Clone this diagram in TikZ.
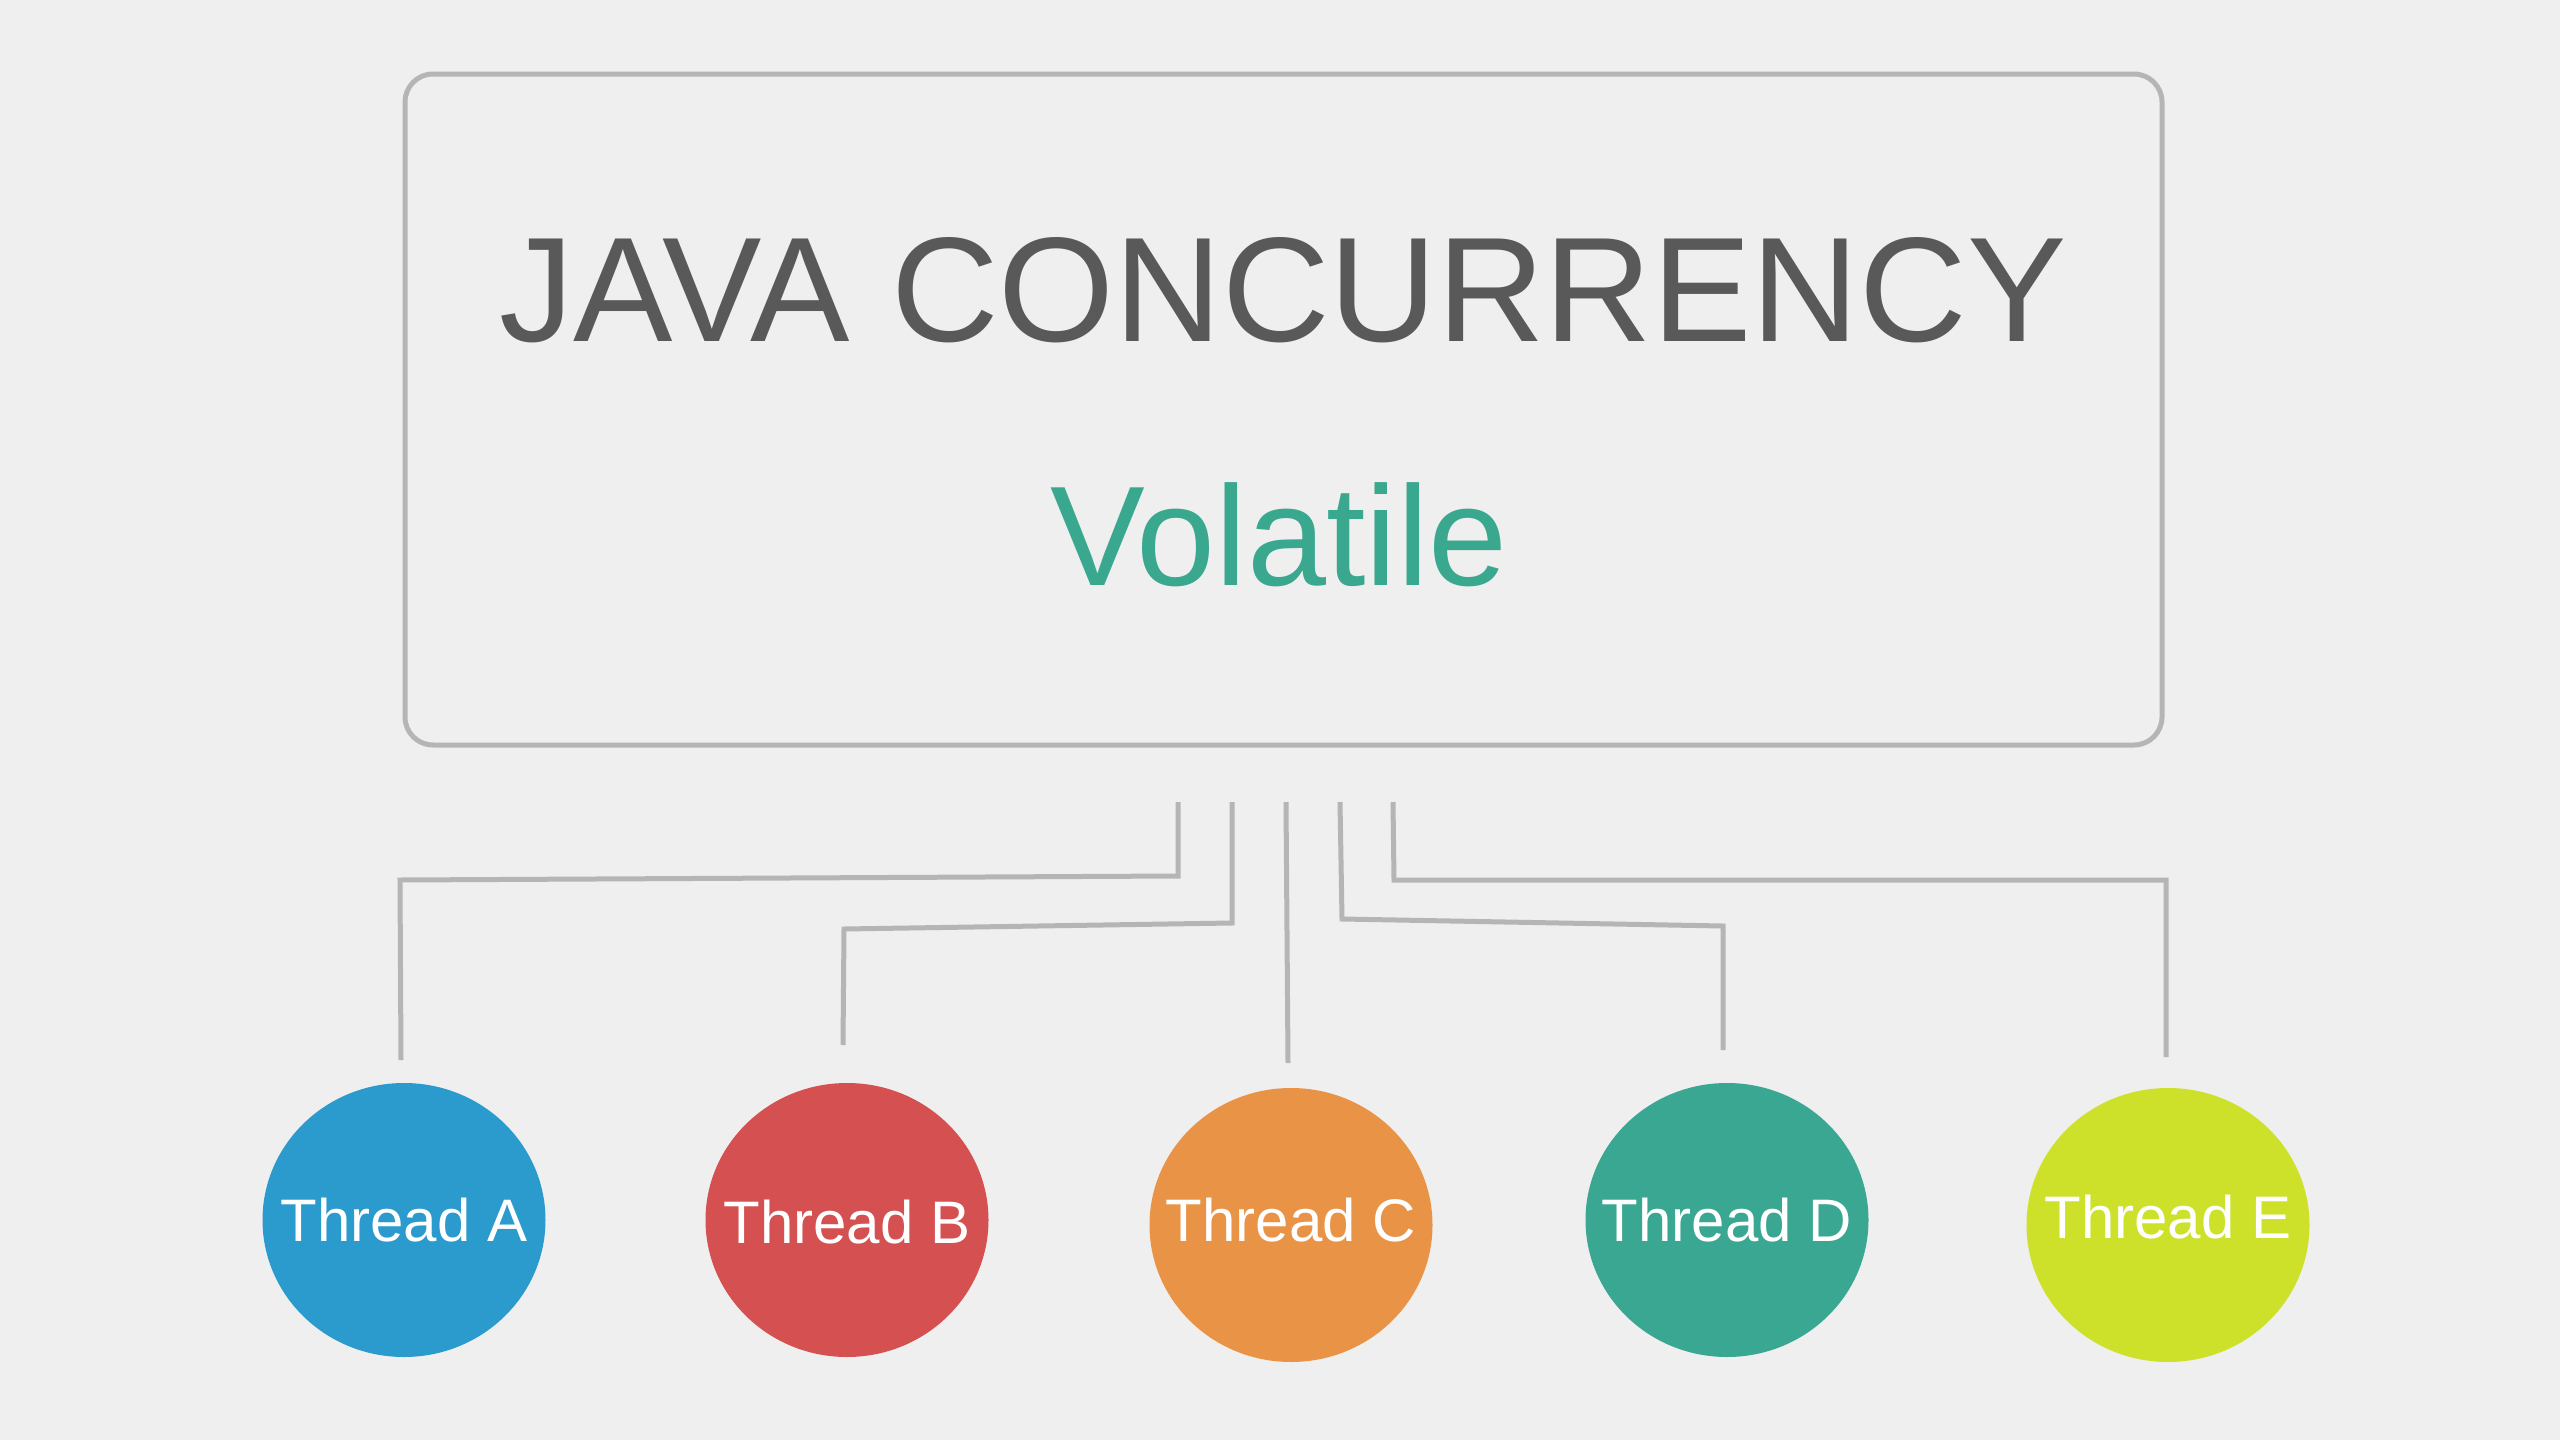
\documentclass[tikz,border=0pt]{standalone}
\usepackage{fontspec}
\setmainfont{Liberation Sans}
\usetikzlibrary{shapes.geometric}
\definecolor{bgc}{HTML}{EFEFEF}
\definecolor{linec}{HTML}{B5B5B5}
\definecolor{titlec}{HTML}{595959}
\definecolor{volc}{HTML}{3AA78F}
\definecolor{ca}{HTML}{2B9ACD}
\definecolor{cb}{HTML}{D45051}
\definecolor{cc}{HTML}{E99347}
\definecolor{cd}{HTML}{3AA792}
\definecolor{ce}{HTML}{CDE12B}
\tikzset{
  thread/.style={ellipse, fill=#1, draw=none, inner sep=0pt,
    minimum width=283pt, minimum height=274pt},
  threadtext/.style={text=white, inner sep=0pt, font=\fontsize{60}{70}\selectfont},
  conn/.style={draw=linec, line width=5pt, line join=miter},
}
\begin{document}
\begin{tikzpicture}[x=1pt,y=-1pt]
\fill[bgc] (0,0) rectangle (2560,1440);
\useasboundingbox (0,0) rectangle (2560,1440);
\node[draw=linec, line width=5pt, rounded corners=28pt, minimum width=1757pt,
  minimum height=671pt, inner sep=0pt] (box) at (1283.5,409.5) {};
\node[anchor=base, text=titlec, font=\fontsize{149}{160}\selectfont] (title) at (1283,341) {JAVA CONCURRENCY};
\node[anchor=base, text=volc, font=\fontsize{142}{150}\selectfont] (vol) at (1279,585) {Volatile};

\node[thread=ca] (A) at (404,1220) {};
\node[thread=cb] (B) at (847,1220) {};
\node[thread=cc] (C) at (1291,1225) {};
\node[thread=cd] (D) at (1727,1220) {};
\node[thread=ce] (E) at (2168,1225) {};
\node[threadtext] (tA) at (A) {Thread A};
\node[threadtext] (tB) at ([yshift=-2pt]B.center) {Thread B};
\node[threadtext] (tC) at ([yshift=5pt]C.center) {Thread C};
\node[threadtext] (tD) at (D) {Thread D};
\node[threadtext] (tE) at ([yshift=8pt]E.center) {Thread E};

\coordinate (sa) at (1178,802);
\coordinate (sb) at (1232,802);
\coordinate (sc) at (1286,802);
\coordinate (sd) at (1340,802);
\coordinate (se) at (1393,802);
\coordinate (ea) at (401,1060);
\coordinate (eb) at (843,1045);
\coordinate (ec) at (1288,1063);
\coordinate (ed) at (1723,1050);
\coordinate (ee) at (2166,1057);

\draw[conn] (sa) -- (1178,876) -- (400,880) -- (ea);
\draw[conn] (sb) -- (1232,923) -- (844,929) -- (eb);
\draw[conn] (sc) -- (ec);
\draw[conn] (sd) -- (1342,919) -- (1723,926) -- (ed);
\draw[conn] (se) -- (1394,880) -- (2166,880) -- (ee);
\end{tikzpicture}
\end{document}
